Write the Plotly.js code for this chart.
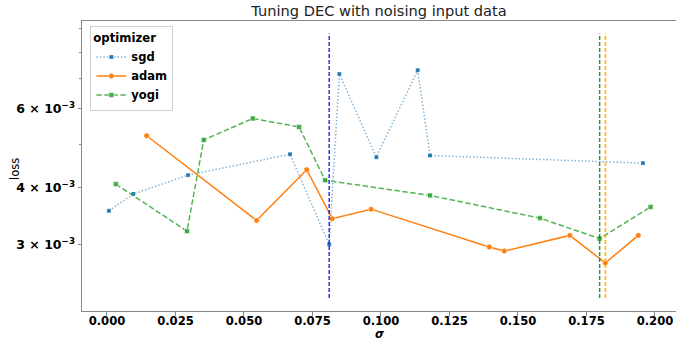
<!DOCTYPE html>
<html>
<head>
<meta charset="utf-8">
<script src="https://cdn.plot.ly/plotly-3.0.1.min.js"></script>
<style>html,body{margin:0;padding:0;background:#fff;}#chart{width:676px;height:341px;}</style>
</head>
<body>
<div id="chart"></div>
<script>
// ---- data ----
const seriesNames = ["sgd", "adam", "yogi"];
const sgdSigma  = [0.0007, 0.0096, 0.0296, 0.0668, 0.0811, 0.0848, 0.0983, 0.1134, 0.1179, 0.1956];
const sgdLoss   = [0.00356, 0.00388, 0.00427, 0.00475, 0.00300, 0.00715, 0.00468, 0.00729, 0.00472, 0.00454];
const adamSigma = [0.0145, 0.0546, 0.0729, 0.0822, 0.0964, 0.1395, 0.1450, 0.1689, 0.1819, 0.1939];
const adamLoss  = [0.00522, 0.00339, 0.00439, 0.00342, 0.00359, 0.00296, 0.00290, 0.00314, 0.00273, 0.00314];
const yogiSigma = [0.0032, 0.0292, 0.0353, 0.0532, 0.0701, 0.0796, 0.1179, 0.1580, 0.1798, 0.1984];
const yogiLoss  = [0.00408, 0.00321, 0.00511, 0.00570, 0.00546, 0.00416, 0.00385, 0.00343, 0.00309, 0.00363];
const xTickVals = [0, 0.025, 0.05, 0.075, 0.1, 0.125, 0.15, 0.175, 0.2];
const yTickVals = [0.003, 0.004, 0.006];
const yTickText = ["3 × 10<sup>−3</sup>", "4 × 10<sup>−3</sup>", "6 × 10<sup>−3</sup>"];
const yMinorVals = [0.005, 0.007, 0.008, 0.009];

function argminX(xs, ys) {
  let k = 0;
  for (let i = 1; i < ys.length; i++) if (ys[i] < ys[k]) k = i;
  return xs[k];
}

const FONT = "DejaVu Sans, Arial, sans-serif";

const traces = [
  {
    name: seriesNames[0], x: sgdSigma, y: sgdLoss, type: "scatter", mode: "lines+markers",
    line: {color: "rgba(31,119,180,0.55)", width: 1.5, dash: "1.5px,2px"},
    marker: {symbol: "square", size: 4, color: "#1f77b4", line: {color: "rgba(255,255,255,0.6)", width: 0.5}}
  },
  {
    name: seriesNames[1], x: adamSigma, y: adamLoss, type: "scatter", mode: "lines+markers",
    line: {color: "#ff7f0e", width: 1.5},
    marker: {symbol: "circle", size: 5.5, color: "#ff7f0e", line: {color: "#ffffff", width: 0.5}}
  },
  {
    name: seriesNames[2], x: yogiSigma, y: yogiLoss, type: "scatter", mode: "lines+markers",
    line: {color: "rgba(44,160,44,0.8)", width: 1.5, dash: "5.5px,2.5px"},
    marker: {symbol: "square", size: 5, color: "rgba(44,160,44,0.85)", line: {color: "rgba(255,255,255,0.7)", width: 0.8}}
  }
];

const vlines = [
  {x: argminX(sgdSigma, sgdLoss), color: "rgba(0,0,230,0.8)", dash: "4px,2px", width: 1.5},
  {x: argminX(yogiSigma, yogiLoss), color: "rgba(0,120,0,0.8)", dash: "4px,2px", width: 1.5},
  {x: argminX(adamSigma, adamLoss), color: "rgba(255,165,0,0.7)", dash: "4px,2px", width: 2}
];

const layout = {
  width: 676, height: 341,
  margin: {l: 82, r: 0, t: 21, b: 30, pad: 0},
  paper_bgcolor: "#ffffff", plot_bgcolor: "#ffffff",
  font: {family: FONT, color: "#000"},
  title: {
    text: "Tuning DEC with noising input data",
    font: {family: FONT, size: 14.6, color: "#222"},
    xref: "paper", x: 0.5, xanchor: "center",
    yref: "container", y: 0.967, yanchor: "middle"
  },
  showlegend: true,
  legend: {
    x: 0.014, y: 0.982, xanchor: "left", yanchor: "top",
    bgcolor: "rgba(255,255,255,0.85)", bordercolor: "#d0d0d0", borderwidth: 1,
    font: {family: FONT, size: 11.5, color: "#000", weight: "bold"},
    title: {text: "<b>optimizer</b>", font: {family: FONT, size: 11.7, color: "#000"}},
    tracegroupgap: 0, itemwidth: 30
  },
  xaxis: {
    range: [-0.00912, 0.20767],
    tickmode: "array", tickvals: xTickVals, tickformat: ".3f",
    ticks: "outside", ticklen: 3.5, tickwidth: 1, tickcolor: "#888",
    ticklabelstandoff: -4,
    showline: true, linecolor: "#888", linewidth: 1, mirror: true,
    showgrid: false, zeroline: false,
    tickfont: {family: FONT, size: 11.6, color: "#000", weight: "bold"}
  },
  yaxis: {
    type: "log",
    range: [Math.log10(0.002136), Math.log10(0.00937)],
    tickmode: "array", tickvals: yTickVals, ticktext: yTickText,
    ticks: "outside", ticklen: 3.5, tickwidth: 1, tickcolor: "#888",
    minor: {tickmode: "array", tickvals: yMinorVals, ticks: "outside", ticklen: 2, tickcolor: "#888", showgrid: false},
    showline: true, linecolor: "#888", linewidth: 1,
    showgrid: false, zeroline: false,
    tickfont: {family: FONT, size: 12.5, color: "#000", weight: "bold"}
  },
  annotations: [
    {text: "<b><i>σ</i></b>", xref: "paper", yref: "paper", x: 0.5, y: -0.081,
     xanchor: "center", yanchor: "middle", showarrow: false,
     font: {family: FONT, size: 11.5, color: "#000"}},
    {text: "loss", xref: "paper", yref: "paper", x: -0.1128, y: 0.49,
     xanchor: "center", yanchor: "middle", textangle: -90, showarrow: false,
     font: {family: FONT, size: 11.5, color: "#000"}}
  ],
  shapes: vlines.map(v => ({
    type: "line", xref: "x", yref: "paper", x0: v.x, x1: v.x, y0: 0.045, y1: 0.957,
    line: {color: v.color, width: v.width, dash: v.dash}, layer: "above"
  }))
};

Plotly.newPlot("chart", traces, layout, {staticPlot: true, displayModeBar: false});
</script>
</body>
</html>
